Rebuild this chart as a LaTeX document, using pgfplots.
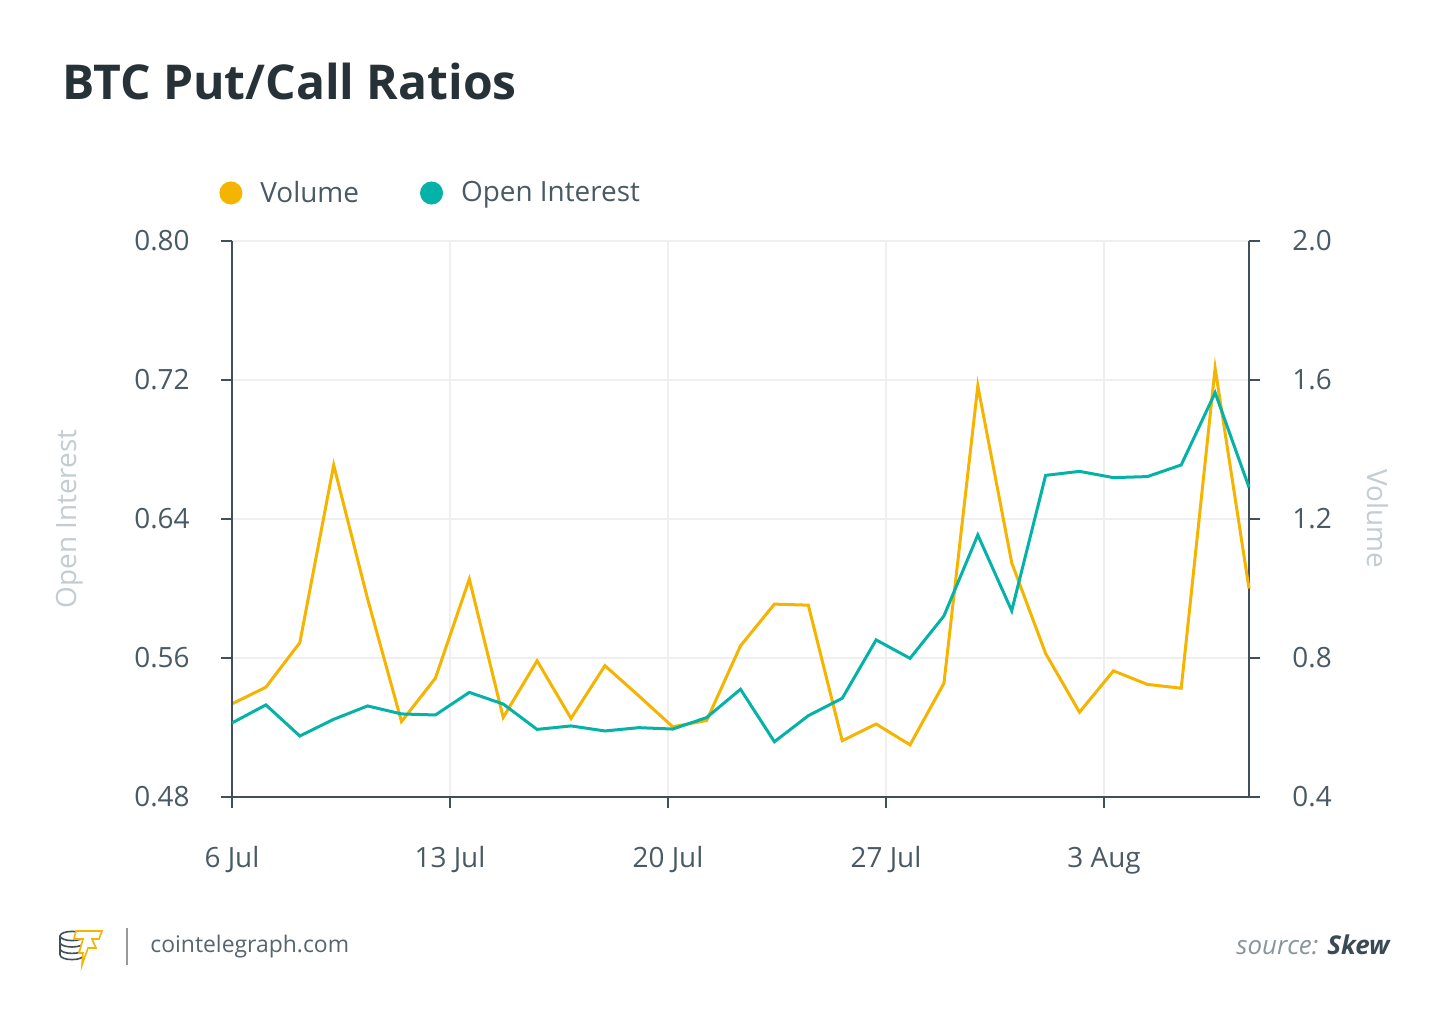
\documentclass[border=0pt]{standalone}
\usepackage{pgfplots}
\pgfplotsset{compat=1.18}
\usepackage{pgfplotstable}
\usepackage{fontspec}
\setmainfont{Open Sans}
\definecolor{vol}{HTML}{F5B400}
\definecolor{oi}{HTML}{05B2A7}
\definecolor{axiscol}{HTML}{3F505B}
\definecolor{gridcol}{HTML}{EFEFEF}
\definecolor{labcol}{HTML}{4A5A64}
\definecolor{lightlab}{HTML}{C3CCD0}
\definecolor{titlecol}{HTML}{263238}
\definecolor{footcol}{HTML}{56656E}
\definecolor{srccol}{HTML}{8A959B}
\definecolor{skewcol}{HTML}{3A4A54}

\pgfplotstableread{
i vol oi
0 0.668 0.5226
1 0.716 0.5330
2 0.844 0.5151
3 1.355 0.5247
4 0.970 0.5324
5 0.617 0.5278
6 0.742 0.5272
7 1.027 0.5402
8 0.629 0.5335
9 0.792 0.5189
10 0.626 0.5209
11 0.778 0.5180
12 0.691 0.5199
13 0.602 0.5191
14 0.620 0.5257
15 0.835 0.5420
16 0.955 0.5118
17 0.952 0.5268
18 0.562 0.5368
19 0.610 0.5704
20 0.550 0.5598
21 0.727 0.5842
22 1.583 0.6308
23 1.074 0.5872
24 0.813 0.6651
25 0.644 0.6674
26 0.763 0.6638
27 0.724 0.6644
28 0.713 0.6711
29 1.634 0.7127
30 1.000 0.6582
}\data

\begin{document}
\begin{tikzpicture}[x=1bp,y=1bp]
\useasboundingbox[fill=white] (0,0) rectangle (725,513);
% title
\node[anchor=base west, inner sep=0pt, font=\fontsize{24.1}{28}\selectfont\bfseries, text=titlecol] at (31,463.25) {BTC Put/Call Ratios};

% Volume axis (right) with grid and x ticks
\begin{axis}[
  at={(116bp,114.5bp)}, anchor=south west, scale only axis,
  width=508.5bp, height=278bp,
  xmin=0, xmax=30, ymin=0.4, ymax=2.0,
  axis x line*=bottom, axis y line*=right,
  axis line style={-, draw=axiscol, line width=1.1bp},
  xtick={0,6.431,12.862,19.292,25.723},
  xticklabels={6 Jul,13 Jul,20 Jul,27 Jul,3 Aug},
  ytick={0.4,0.8,1.2,1.6,2.0},
  yticklabel={\pgfmathprintnumber[fixed,fixed zerofill,precision=1,assume math mode=true]{\tick}},
  grid=major, major grid style={draw=gridcol, line width=1bp},
  tick align=outside, major tick length=5.5bp,
  tick style={draw=axiscol, line width=1.1bp},
  ticklabel style={font=\fontsize{14}{16}\selectfont, text=labcol, inner sep=0pt},
  xticklabel style={anchor=base, yshift=-30bp},
  yticklabel style={anchor=west, xshift=16bp},
  clip=false,
]
\addplot[vol, line width=1.5bp] table[x=i,y=vol]{\data};
\node[rotate=-90, font=\fontsize{14}{16}\selectfont, text=lightlab] at (axis description cs:1.1268,0.5) {Volume};
\end{axis}

% Open interest axis (left)
\begin{axis}[
  at={(116bp,114.5bp)}, anchor=south west, scale only axis,
  width=508.5bp, height=278bp,
  xmin=0, xmax=30, ymin=0.48, ymax=0.80,
  axis x line=none, axis y line*=left,
  axis line style={-, draw=axiscol, line width=1.1bp},
  ytick={0.48,0.56,0.64,0.72,0.80},
  yticklabel={\pgfmathprintnumber[fixed,fixed zerofill,precision=2,assume math mode=true]{\tick}},
  tick align=outside, major tick length=5.5bp,
  tick style={draw=axiscol, line width=1.1bp},
  ticklabel style={font=\fontsize{14}{16}\selectfont, text=labcol, inner sep=0pt},
  yticklabel style={anchor=east, xshift=-15.5bp},
  clip=false,
  legend columns=2,
  legend image code/.code={\fill[#1] (5bp,0bp) circle (5bp);},
  legend style={at={(axis description cs:-0.0128,1.0863)}, anchor=west,
    draw=none, fill=none, inner sep=0pt,
    font=\fontsize{14}{16}\selectfont, text=labcol,
    nodes={inner sep=0pt},
    /tikz/every odd column/.append style={column sep=9bp},
    /tikz/every even column/.append style={column sep=30.5bp}},
]
\addlegendimage{vol, line width=1.5bp}
\addlegendentry{Volume}
\addplot[oi, line width=1.5bp] table[x=i,y=oi]{\data};
\addlegendentry{Open Interest}
\node[rotate=90, font=\fontsize{14}{16}\selectfont, text=lightlab] at (axis description cs:-0.1593,0.5) {Open Interest};
\end{axis}

% footer
\begin{scope}[line width=0.8bp, draw=axiscol]
\draw (36,45) ellipse (6 and 2.3);
\draw (30,45) -- (30,35.5);
\draw (42,45) -- (42,35.5);
\draw (30,41.8) arc (180:360:6 and 2.3);
\draw (30,38.6) arc (180:360:6 and 2.3);
\draw (30,35.5) arc (180:360:6 and 2.3);
\end{scope}
\draw[vol, line width=0.8bp, fill=white] (38,47.5) -- (51,47.5) -- (49.5,43.5) -- (46,43.5) -- (48,39) -- (44,39) -- (41,30.5) -- (41.5,36.5) -- (39.5,36.5) -- (41.5,43.5) -- (37,43.5) -- cycle;
\draw[gray!80, line width=1bp] (63.5,30.5) -- (63.5,49);
\node[anchor=base west, inner sep=0pt, font=\fontsize{11.5}{13}\selectfont, text=footcol] at (75,36.5) {cointelegraph.com};
\node[anchor=base east, inner sep=0pt, font=\fontsize{13}{15}\selectfont\itshape] at (695,35.5) {\textcolor{srccol}{source:} \textcolor{skewcol}{\bfseries Skew}};
\end{tikzpicture}
\end{document}
